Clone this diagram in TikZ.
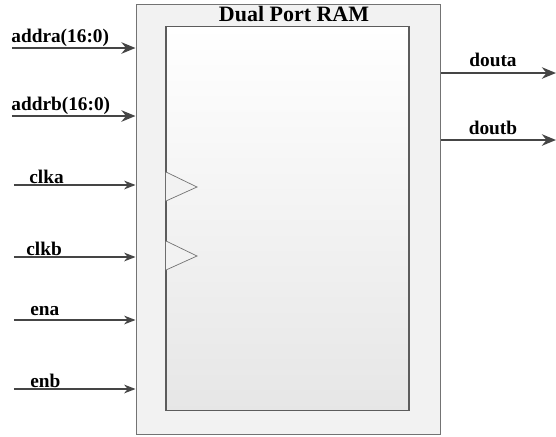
\documentclass[tikz,border=0pt]{standalone}
\usepackage{fontspec}
\setmainfont{Liberation Serif}
\usetikzlibrary{arrows.meta}
\definecolor{cbord}{gray}{0.45}
\definecolor{cfleche}{gray}{0.27}
\definecolor{cfond}{gray}{0.95}

\begin{document}
\begin{tikzpicture}[x=0.02cm, y=-0.02cm,
    bus/.style={cfleche, line width=1.7pt, -{Stealth[length=8pt, width=6.5pt]}},
    fil/.style={cfleche, line width=0.6pt, -{Stealth[length=6.5pt, width=5pt]}},
    etiq/.style={font=\fontsize{11}{13}\selectfont\bfseries, inner sep=0pt}]
  \useasboundingbox (0,0) rectangle (556,437);

  % boitier et coeur de la RAM
  \node[draw=cbord, fill=cfond, line width=0.6pt, minimum width=6.1cm,
        minimum height=8.62cm, inner sep=0pt] (ram) at (288.5,219.5) {};
  \node[draw=cbord!80!black, top color=white, bottom color=cfond!95!black,
        line width=0.6pt, minimum width=4.86cm, minimum height=7.7cm,
        inner sep=0pt] (coeur) at (287.5,218.5) {};
  \node[font=\fontsize{12.5}{14}\selectfont\bfseries] (titre) at (294,14)
       {Dual Port RAM};

  % marqueurs d'horloge
  \draw[cbord, fill=cfond] (166,172) -- (197,187) -- (166,201);
  \draw[cbord, fill=cfond] (166,241) -- (197,256) -- (166,270);

  % entrees
  \coordinate (inA) at (12,48);
  \coordinate (inB) at (12,116);
  \coordinate (ckA) at (14,185);
  \coordinate (ckB) at (14,257);
  \coordinate (enA) at (14,320);
  \coordinate (enB) at (14,389);
  \draw[bus] (inA) -- (inA -| ram.west);
  \draw[bus] (inB) -- (inB -| ram.west);
  \draw[fil] (ckA) -- (ckA -| ram.west);
  \draw[fil] (ckB) -- (ckB -| ram.west);
  \draw[fil] (enA) -- (enA -| ram.west);
  \draw[fil] (enB) -- (enB -| ram.west);
  \node[etiq, anchor=west] (lA) at (11,38) {addra(16:0)};
  \node[etiq, anchor=west] (lB) at (11,106) {addrb(16:0)};
  \node[etiq, anchor=west] (lckA) at (29,177) {clka};
  \node[etiq, anchor=west] (lckB) at (26,249) {clkb};
  \node[etiq, anchor=west] (lenA) at (30,311) {ena};
  \node[etiq, anchor=west] (lenB) at (30,381) {enb};

  % sorties
  \coordinate (outA) at (556,73);
  \coordinate (outB) at (556,140);
  \draw[bus] (outA -| ram.east) -- (outA);
  \draw[bus] (outB -| ram.east) -- (outB);
  \node[etiq] (ldA) at (493,60) {douta};
  \node[etiq] (ldB) at (493,128) {doutb};
\end{tikzpicture}
\end{document}
